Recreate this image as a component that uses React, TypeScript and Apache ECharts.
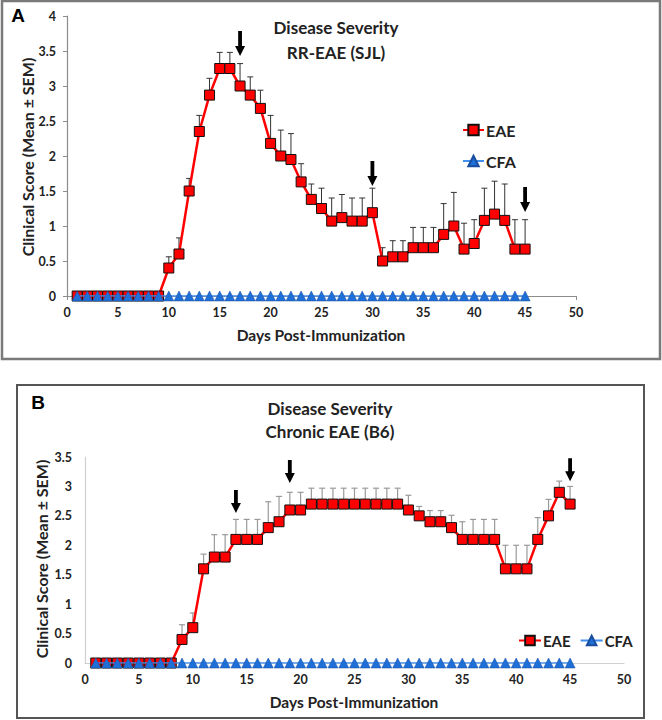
import React, { useEffect, useRef } from "react";
import * as echarts from "echarts";

// Days post-immunization (x values)
const days = [1, 2, 3, 4, 5, 6, 7, 8, 9, 10, 11, 12, 13, 14, 15, 16, 17, 18, 19, 20, 21, 22, 23, 24, 25, 26, 27, 28, 29, 30, 31, 32, 33, 34, 35, 36, 37, 38, 39, 40, 41, 42, 43, 44, 45];

// Panel A: RR-EAE (SJL)
const eaeA = [0, 0, 0, 0, 0, 0, 0, 0, 0, 0.4, 0.6, 1.5, 2.35, 2.87, 3.25, 3.25, 3.0, 2.87, 2.68, 2.18, 2.0, 1.95, 1.63, 1.38, 1.25, 1.07, 1.12, 1.07, 1.07, 1.19, 0.5, 0.56, 0.56, 0.69, 0.69, 0.69, 0.88, 1.0, 0.67, 0.75, 1.08, 1.17, 1.08, 0.67, 0.67];
const eaeUpperA = [0, 0, 0, 0, 0, 0, 0, 0, 0, 0.56, 0.83, 1.68, 2.58, 3.11, 3.48, 3.48, 3.32, 3.13, 2.94, 2.58, 2.37, 2.32, 1.89, 1.6, 1.54, 1.4, 1.45, 1.4, 1.4, 1.54, 0.69, 0.79, 0.79, 0.98, 0.98, 0.98, 1.32, 1.48, 1.04, 1.09, 1.54, 1.64, 1.6, 1.09, 1.09];
const cfaA = [0, 0, 0, 0, 0, 0, 0, 0, 0, 0, 0, 0, 0, 0, 0, 0, 0, 0, 0, 0, 0, 0, 0, 0, 0, 0, 0, 0, 0, 0, 0, 0, 0, 0, 0, 0, 0, 0, 0, 0, 0, 0, 0, 0, 0];
const arrowsA = [[17, 3.43], [30, 1.57], [45, 1.2]];

// Panel B: Chronic EAE (B6)
const eaeB = [0, 0, 0, 0, 0, 0, 0, 0, 0.4, 0.6, 1.6, 1.8, 1.8, 2.1, 2.1, 2.1, 2.3, 2.4, 2.6, 2.6, 2.7, 2.7, 2.7, 2.7, 2.7, 2.7, 2.7, 2.7, 2.7, 2.6, 2.5, 2.4, 2.4, 2.3, 2.1, 2.1, 2.1, 2.1, 1.6, 1.6, 1.6, 2.1, 2.5, 2.9, 2.7];
const eaeUpperB = [0, 0, 0, 0, 0, 0, 0, 0, 0.65, 0.85, 1.85, 2.18, 2.18, 2.44, 2.44, 2.44, 2.74, 2.83, 2.9, 2.9, 2.97, 2.97, 2.97, 2.97, 2.97, 2.97, 2.97, 2.97, 2.97, 2.85, 2.66, 2.59, 2.59, 2.51, 2.4, 2.44, 2.44, 2.44, 2.0, 2.0, 2.0, 2.47, 2.78, 3.09, 3.0];
const cfaB = [0, 0, 0, 0, 0, 0, 0, 0, 0, 0, 0, 0, 0, 0, 0, 0, 0, 0, 0, 0, 0, 0, 0, 0, 0, 0, 0, 0, 0, 0, 0, 0, 0, 0, 0, 0, 0, 0, 0, 0, 0, 0, 0, 0, 0];
const arrowsB = [[14, 2.55], [19, 3.06], [45, 3.09]];

const FONT = "Lato, 'Open Sans', sans-serif";
const RED = "#ff0000";
const BLUE = "#1f6fd8";

function pairs(vals: number[]) {
  return days.map((d, i) => [d, vals[i]]);
}
function errData(mean: number[], upper: number[]) {
  return days
    .map((d, i) => [d, mean[i], upper[i]])
    .filter((r) => r[2] > r[1]);
}

function errSeries(idx: number, data: number[][], color: string, width: number) {
  return {
    type: "custom",
    xAxisIndex: idx,
    yAxisIndex: idx,
    silent: true,
    z: 2,
    data,
    renderItem: (params: any, api: any) => {
      const p0 = api.coord([api.value(0), api.value(1)]);
      const p1 = api.coord([api.value(0), api.value(2)]);
      const style = { stroke: color, lineWidth: width };
      return {
        type: "group",
        children: [
          { type: "line", shape: { x1: p0[0], y1: p0[1], x2: p1[0], y2: p1[1] }, style },
          { type: "line", shape: { x1: p1[0] - 3, y1: p1[1], x2: p1[0] + 3, y2: p1[1] }, style },
        ],
      };
    },
  };
}

function arrowSeries(idx: number, data: number[][], len: number) {
  return {
    type: "custom",
    xAxisIndex: idx,
    yAxisIndex: idx,
    silent: true,
    z: 6,
    data,
    renderItem: (params: any, api: any) => {
      const p = api.coord([api.value(0), api.value(1)]);
      const x = p[0];
      const y = p[1];
      const hw = 5;
      const sw = 1.9;
      const hl = 10;
      return {
        type: "polygon",
        shape: {
          points: [
            [x - sw, y - len],
            [x + sw, y - len],
            [x + sw, y - hl],
            [x + hw, y - hl],
            [x, y],
            [x - hw, y - hl],
            [x - sw, y - hl],
          ],
        },
        style: { fill: "#000" },
      };
    },
  };
}

function eaeSeries(idx: number, vals: number[]) {
  return {
    name: "EAE",
    type: "line",
    xAxisIndex: idx,
    yAxisIndex: idx,
    data: pairs(vals),
    symbol: "rect",
    symbolSize: 10,
    showAllSymbol: true,
    itemStyle: { color: RED, borderColor: "#111", borderWidth: 1 },
    lineStyle: { color: RED, width: 2.5 },
    z: 3,
  };
}
function cfaSeries(idx: number, vals: number[]) {
  return {
    name: "CFA",
    type: "line",
    xAxisIndex: idx,
    yAxisIndex: idx,
    data: pairs(vals),
    symbol: "triangle",
    symbolSize: 10,
    showAllSymbol: true,
    itemStyle: { color: BLUE, borderColor: "#1a4d9e", borderWidth: 0.5 },
    lineStyle: { color: "#3f8ef0", width: 1.5 },
    z: 4,
  };
}

const tickLabel = { fontSize: 12.5, fontWeight: "bold", color: "#222", fontFamily: FONT };

export default function App() {
  const ref = useRef<HTMLDivElement>(null);
  useEffect(() => {
    document.body.style.margin = "0";
    const chart = echarts.init(ref.current!, null, { renderer: "svg" });
    const option: any = {
      animation: false,
      backgroundColor: "#fff",
      textStyle: { fontFamily: FONT },
      grid: [
        { left: 67, top: 16, width: 509, height: 280 },
        { left: 85, top: 457, width: 539, height: 206 },
      ],
      xAxis: [
        {
          gridIndex: 0,
          type: "value",
          min: 0,
          max: 50,
          interval: 5,
          axisLine: { show: true, onZero: false, lineStyle: { color: "#8c8c8c", width: 1.2 } },
          axisTick: { show: true, length: 4, lineStyle: { color: "#8c8c8c" } },
          axisLabel: { ...tickLabel, margin: 10 },
          splitLine: { show: false },
        },
        {
          gridIndex: 1,
          type: "value",
          min: 0,
          max: 50,
          interval: 5,
          axisLine: { show: true, onZero: false, lineStyle: { color: "#d0d0d0", width: 1.2 } },
          axisTick: { show: false },
          axisLabel: { ...tickLabel, margin: 10 },
          splitLine: { show: false },
        },
      ],
      yAxis: [
        {
          gridIndex: 0,
          type: "value",
          min: 0,
          max: 4,
          interval: 0.5,
          axisLine: { show: true, lineStyle: { color: "#8c8c8c", width: 1.2 } },
          axisTick: { show: true, length: 4, lineStyle: { color: "#8c8c8c" } },
          axisLabel: { ...tickLabel, margin: 11 },
          splitLine: { show: false },
        },
        {
          gridIndex: 1,
          type: "value",
          min: 0,
          max: 3.5,
          interval: 0.5,
          axisLine: { show: true, lineStyle: { color: "#d0d0d0", width: 1.2 } },
          axisTick: { show: false },
          axisLabel: { ...tickLabel, margin: 13 },
          splitLine: { show: false },
        },
      ],
      legend: [
        {
          data: ["EAE", "CFA"],
          orient: "vertical",
          left: 457,
          top: 117,
          itemWidth: 21,
          itemHeight: 13,
          itemGap: 15,
          textStyle: { fontSize: 16, fontWeight: "bold", color: "#222", fontFamily: FONT, padding: [0, 0, 0, -3] },
          selectedMode: false,
        },
        {
          data: ["EAE", "CFA"],
          orient: "horizontal",
          left: 513,
          top: 628,
          itemWidth: 22,
          itemHeight: 12,
          itemGap: 9,
          textStyle: { fontSize: 15, fontWeight: "bold", color: "#222", fontFamily: FONT, padding: [0, 0, 0, -3] },
          selectedMode: false,
        },
      ],
      series: [
        errSeries(0, errData(eaeA, eaeUpperA), "#333", 1),
        eaeSeries(0, eaeA),
        cfaSeries(0, cfaA),
        arrowSeries(0, arrowsA, 25),
        errSeries(1, errData(eaeB, eaeUpperB), "#9a9a9a", 1.2),
        eaeSeries(1, eaeB),
        cfaSeries(1, cfaB),
        arrowSeries(1, arrowsB, 23),
      ],
      graphic: [
        { type: "rect", shape: { x: 2, y: 1, width: 658, height: 358 }, style: { fill: "none", stroke: "#7a7a7a", lineWidth: 2.5 }, z: 0 },
        { type: "rect", shape: { x: 17, y: 385, width: 627, height: 333 }, style: { fill: "none", stroke: "#555", lineWidth: 2 }, z: 0 },
        { type: "text", x: 18, y: 15, style: { text: "A", align: "center", verticalAlign: "middle", font: "bold 19px 'Liberation Sans', Arial, sans-serif", fill: "#000" } },
        { type: "text", x: 336, y: 27, style: { text: "Disease Severity", align: "center", verticalAlign: "middle", font: `bold 17px ${FONT}`, fill: "#222" } },
        { type: "text", x: 336, y: 52, style: { text: "RR-EAE (SJL)", align: "center", verticalAlign: "middle", font: `bold 17px ${FONT}`, fill: "#222" } },
        { type: "text", x: 27, y: 157, rotation: Math.PI / 2, style: { text: "Clinical Score (Mean ± SEM)", align: "center", verticalAlign: "middle", font: `bold 16px ${FONT}`, fill: "#222" } },
        { type: "text", x: 321, y: 335, style: { text: "Days Post-Immunization", align: "center", verticalAlign: "middle", font: `bold 15.5px ${FONT}`, fill: "#222" } },
        { type: "text", x: 38, y: 402, style: { text: "B", align: "center", verticalAlign: "middle", font: "bold 19px 'Liberation Sans', Arial, sans-serif", fill: "#000" } },
        { type: "text", x: 330, y: 408, style: { text: "Disease Severity", align: "center", verticalAlign: "middle", font: `bold 17px ${FONT}`, fill: "#222" } },
        { type: "text", x: 330, y: 431, style: { text: "Chronic EAE (B6)", align: "center", verticalAlign: "middle", font: `bold 17px ${FONT}`, fill: "#222" } },
        { type: "text", x: 41, y: 559, rotation: Math.PI / 2, style: { text: "Clinical Score (Mean ± SEM)", align: "center", verticalAlign: "middle", font: `bold 16px ${FONT}`, fill: "#222" } },
        { type: "text", x: 354, y: 702, style: { text: "Days Post-Immunization", align: "center", verticalAlign: "middle", font: `bold 15.5px ${FONT}`, fill: "#222" } },
      ],
    };
    chart.setOption(option);
    return () => chart.dispose();
  }, []);
  return <div ref={ref} style={{ width: 662, height: 720 }} />;
}
